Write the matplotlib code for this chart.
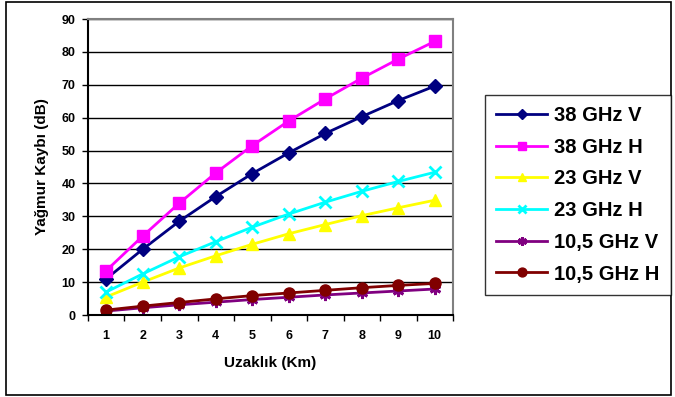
import matplotlib.pyplot as plt
from matplotlib.patches import Rectangle
from matplotlib.ticker import MultipleLocator, FixedLocator

plt.rcParams['font.family'] = ['Liberation Sans', 'DejaVu Sans']
plt.rcParams['font.weight'] = 'bold'

uzaklik = [1, 2, 3, 4, 5, 6, 7, 8, 9, 10]

ghz38_v = [11.0, 20.0, 28.5, 36.0, 43.0, 49.3, 55.2, 60.3, 65.2, 69.6]
ghz38_h = [13.5, 24.0, 34.0, 43.2, 51.5, 59.0, 65.7, 72.0, 77.8, 83.2]
ghz23_v = [5.5, 10.0, 14.3, 18.0, 21.5, 24.7, 27.5, 30.2, 32.6, 34.9]
ghz23_h = [7.0, 12.5, 17.7, 22.3, 26.7, 30.7, 34.3, 37.6, 40.6, 43.4]
ghz105_v = [1.2, 2.2, 3.1, 3.9, 4.7, 5.4, 6.1, 6.7, 7.3, 7.9]
ghz105_h = [1.5, 2.7, 3.8, 4.9, 5.9, 6.7, 7.5, 8.3, 9.0, 9.6]

seriler = [
    ("38 GHz V", ghz38_v, "#000080", "D", 7),
    ("38 GHz H", ghz38_h, "#FF00FF", "s", 8),
    ("23 GHz V", ghz23_v, "#FFFF00", "^", 8),
    ("23 GHz H", ghz23_h, "#00FFFF", "x", 8),
    ("10,5 GHz V", ghz105_v, "#800080", (6, 2, 0), 8),
    ("10,5 GHz H", ghz105_h, "#800000", "o", 8),
]

W, H = 675, 397
fig = plt.figure(figsize=(W / 100, H / 100), dpi=100)

# dis cerceve
fig.patches.append(Rectangle((6 / W, 2 / H), 665 / W, 393 / H, transform=fig.transFigure,
                             fill=False, edgecolor="black", linewidth=1.2))

ax = fig.add_axes([88 / W, (H - 315) / H, 365 / W, 296 / H])

for ad, deger, renk, isaret, boyut in seriler:
    ax.plot(uzaklik, deger, color=renk, marker=isaret, markersize=boyut, linewidth=2,
            markeredgewidth=2 if isaret in ("x", (6, 2, 0)) else 1, label=ad)

ax.set_xlim(0.5, 10.5)
ax.set_ylim(0, 90)
ax.yaxis.set_major_locator(MultipleLocator(10))
ax.xaxis.set_major_locator(FixedLocator(uzaklik))
ax.xaxis.set_minor_locator(FixedLocator([x + 0.5 for x in range(0, 11)]))
ax.tick_params(axis="x", which="major", length=0, labelsize=9, pad=11)
ax.tick_params(axis="x", which="minor", length=4, width=1, direction="out")
ax.tick_params(axis="y", length=4, width=1, labelsize=9, pad=5)
ax.grid(axis="y", color="black", linewidth=1)
ax.set_axisbelow(True)

for s in ("left", "bottom"):
    ax.spines[s].set_color("black")
    ax.spines[s].set_linewidth(1.5)
for s in ("top", "right"):
    ax.spines[s].set_color("#808080")
    ax.spines[s].set_linewidth(1.5)

ax.set_xlabel("Uzaklık (Km)", fontsize=11, fontweight="bold", labelpad=10)
ax.set_ylabel("Yağmur Kaybı (dB)", fontsize=11, fontweight="bold", labelpad=9)

leg = fig.legend(loc="upper left", bbox_to_anchor=(485 / W, 1 - 95 / H), fontsize=14.5,
                 frameon=True, fancybox=False, edgecolor="black", borderpad=0.55,
                 labelspacing=0.63, handlelength=2.55, handletextpad=0.35, borderaxespad=0,
                 markerscale=0.8)
leg.get_frame().set_linewidth(1)
for t in leg.get_texts():
    t.set_fontweight("bold")

fig.savefig("out.png", dpi=100)
